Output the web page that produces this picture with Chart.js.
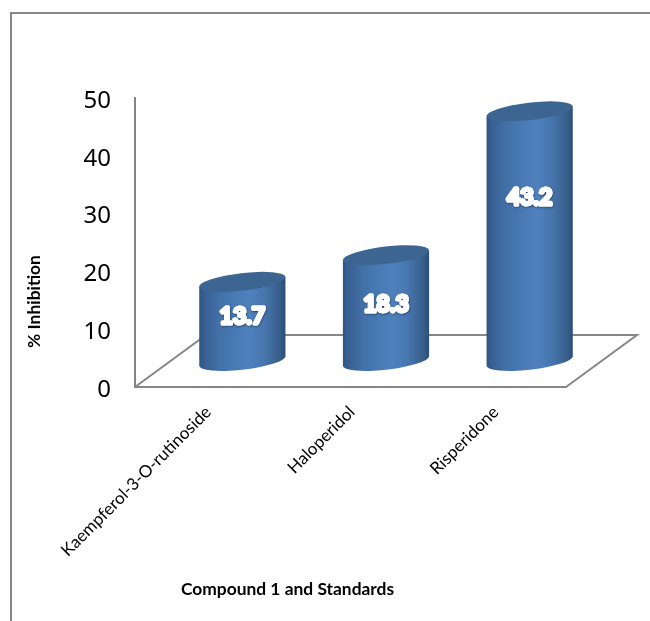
<!DOCTYPE html>
<html>
<head>
<meta charset="utf-8">
<style>
  html, body { margin: 0; padding: 0; background: #fff; }
  #wrap { position: relative; width: 650px; height: 621px; overflow: hidden; }
</style>
<script src="https://cdn.jsdelivr.net/npm/chart.js@4"></script>
</head>
<body>
<div id="wrap"><canvas id="chart" width="650" height="621"></canvas></div>
<script>
const categories = ['Kaempferol-3-O-rutinoside', 'Haloperidol', 'Risperidone'];
const inhibition = [13.7, 18.3, 43.2];
const yTicks = [0, 10, 20, 30, 40, 50];
const yTitle = '% Inhibition';
const xTitle = 'Compound 1 and Standards';

// Pixel lift of each value label above the middle of its column.
const labelLift = [4.5, 4, 39];

const AXIS_GREY = '#868686';
const FONT = 'Lato, "Open Sans", sans-serif';
const FLOOR_DX = 71;   // floor depth, horizontally
const FLOOR_DY = -52;  // floor depth, vertically
const ELLIPSE_B = 8.7; // minor radius of the cylinder caps
const ELLIPSE_TILT = -0.115;

// Column drawn as a tilted cylinder standing in the middle of the floor's depth.
class CylinderBar extends Chart.BarElement {
  draw(ctx) {
    const { x, y, base, width } = this.getProps(['x', 'y', 'base', 'width']);
    const cx = x + FLOOR_DX / 2;
    const top = y + FLOOR_DY / 2;
    const bottom = base + FLOOR_DY / 2;
    const a = width / 2;
    const b = ELLIPSE_B;
    const t = Math.atan(-(b / a) * Math.tan(ELLIPSE_TILT));
    const rim = (cy, ang) => ({
      x: cx + a * Math.cos(ang) * Math.cos(ELLIPSE_TILT) - b * Math.sin(ang) * Math.sin(ELLIPSE_TILT),
      y: cy + a * Math.cos(ang) * Math.sin(ELLIPSE_TILT) + b * Math.sin(ang) * Math.cos(ELLIPSE_TILT)
    });
    const rightTop = rim(top, t);
    const leftTop = rim(top, t + Math.PI);
    const leftBottom = rim(bottom, t + Math.PI);

    const shade = ctx.createLinearGradient(cx - a, 0, cx + a, 0);
    shade.addColorStop(0, '#2f5580');
    shade.addColorStop(0.07, '#386093');
    shade.addColorStop(0.25, '#4372aa');
    shade.addColorStop(0.58, '#4f81bd');
    shade.addColorStop(0.75, '#4776ae');
    shade.addColorStop(0.92, '#38608e');
    shade.addColorStop(1, '#2d4d74');

    ctx.save();
    ctx.beginPath();
    ctx.moveTo(rightTop.x, rightTop.y);
    ctx.lineTo(leftTop.x, leftTop.y);
    ctx.lineTo(leftBottom.x, leftBottom.y);
    ctx.ellipse(cx, bottom, a, b, ELLIPSE_TILT, t + Math.PI, t, true);
    ctx.closePath();
    ctx.fillStyle = shade;
    ctx.fill();

    ctx.beginPath();
    ctx.ellipse(cx, top, a, b, ELLIPSE_TILT, 0, Math.PI * 2);
    ctx.fillStyle = '#3c6592';
    ctx.fill();
    ctx.restore();
  }
}
CylinderBar.id = 'cylinderBar';
CylinderBar.defaults = Chart.BarElement.defaults;

class CylinderController extends Chart.BarController {}
CylinderController.id = 'cylinder';
CylinderController.defaults = { ...Chart.BarController.defaults, dataElementType: 'cylinderBar' };

Chart.register(CylinderBar, CylinderController);

// Outer frame, open on the right and at the bottom.
const framePlugin = {
  id: 'frame',
  beforeDraw(chart) {
    const ctx = chart.ctx;
    ctx.save();
    ctx.strokeStyle = AXIS_GREY;
    ctx.lineWidth = 2;
    ctx.beginPath();
    ctx.moveTo(650, 13);
    ctx.lineTo(11, 13);
    ctx.lineTo(11, 621);
    ctx.stroke();
    ctx.restore();
  }
};

// Floor edges behind the columns, derived from the axes.
const floorPlugin = {
  id: 'floor',
  beforeDatasetsDraw(chart) {
    const { x: xs, y: ys } = chart.scales;
    const ctx = chart.ctx;
    const y0 = ys.getPixelForValue(0);
    ctx.save();
    ctx.strokeStyle = AXIS_GREY;
    ctx.lineWidth = 2;
    ctx.lineJoin = 'miter';
    ctx.beginPath();
    ctx.moveTo(xs.left, y0);
    ctx.lineTo(xs.left + FLOOR_DX, y0 + FLOOR_DY);
    ctx.lineTo(xs.right + FLOOR_DX, y0 + FLOOR_DY);
    ctx.lineTo(xs.right, y0);
    ctx.stroke();
    ctx.restore();
  }
};

// White value labels with a heavy outline, read from the dataset.
const valueLabelPlugin = {
  id: 'valueLabels',
  afterDatasetsDraw(chart) {
    const ctx = chart.ctx;
    const meta = chart.getDatasetMeta(0);
    ctx.save();
    ctx.font = 'bold 23px ' + FONT;
    ctx.textAlign = 'center';
    ctx.textBaseline = 'middle';
    ctx.lineJoin = 'round';
    meta.data.forEach((bar, i) => {
      const text = inhibition[i].toFixed(1);
      const x = bar.x + FLOOR_DX / 2;
      const y = (bar.y + bar.base) / 2 + FLOOR_DY / 2 - labelLift[i];
      ctx.strokeStyle = '#ffffff';
      ctx.fillStyle = '#ffffff';
      ctx.lineWidth = 3;
      ctx.shadowColor = 'rgba(20,40,70,0.7)';
      ctx.shadowBlur = 2;
      ctx.shadowOffsetX = 0.5;
      ctx.shadowOffsetY = 1;
      ctx.strokeText(text, x, y);
      ctx.shadowColor = 'transparent';
      ctx.strokeText(text, x, y);
      ctx.fillText(text, x, y);
    });
    ctx.restore();
  }
};

// Axis titles sit away from the centre of their axes.
const titleOffsetPlugin = {
  id: 'titleOffsets',
  afterUpdate(chart) {
    const shifts = { x: [-63, 0], y: [0, 59] };
    Object.keys(shifts).forEach(key => {
      const scale = chart.scales[key];
      const original = Object.getPrototypeOf(scale).drawTitle;
      scale.drawTitle = function () {
        const ctx = this.ctx;
        ctx.save();
        ctx.translate(shifts[key][0], shifts[key][1]);
        original.call(this);
        ctx.restore();
      };
    });
  }
};

new Chart(document.getElementById('chart'), {
  type: 'cylinder',
  data: {
    labels: categories,
    datasets: [{
      label: '% Inhibition',
      data: inhibition,
      backgroundColor: '#4f81bd',
      categoryPercentage: 1,
      barPercentage: 0.604,
      clip: false
    }]
  },
  options: {
    responsive: false,
    animation: false,
    layout: { padding: { left: 20, right: 84, top: 98, bottom: 21 } },
    plugins: { legend: { display: false }, tooltip: { enabled: false } },
    scales: {
      x: {
        afterFit(scale) { scale.height = 213; },
        grid: { display: false, drawTicks: false },
        border: { display: true, color: AXIS_GREY, width: 2 },
        ticks: {
          color: '#000000',
          font: { family: FONT, size: 17 },
          minRotation: 45,
          maxRotation: 45,
          padding: 15,
          labelOffset: 1.5
        },
        title: {
          display: true,
          text: xTitle,
          color: '#000000',
          font: { family: FONT, size: 17.4, weight: 'bold' },
          padding: { top: 20, bottom: 0 }
        }
      },
      y: {
        min: 0,
        max: 50,
        afterBuildTicks(scale) { scale.ticks = yTicks.map(v => ({ value: v })); },
        afterFit(scale) { scale.width = 115; },
        grid: { display: false, drawTicks: false },
        border: { display: true, color: AXIS_GREY, width: 2 },
        ticks: {
          color: '#000000',
          font: { family: '"Noto Sans", sans-serif', size: 24 },
          padding: 24,
          labelOffset: 3
        },
        title: {
          display: true,
          text: yTitle,
          color: '#000000',
          font: { family: FONT, size: 17.4, weight: 'bold' },
          padding: { top: 4, bottom: 0 }
        }
      }
    }
  },
  plugins: [framePlugin, floorPlugin, valueLabelPlugin, titleOffsetPlugin]
});
</script>
</body>
</html>
